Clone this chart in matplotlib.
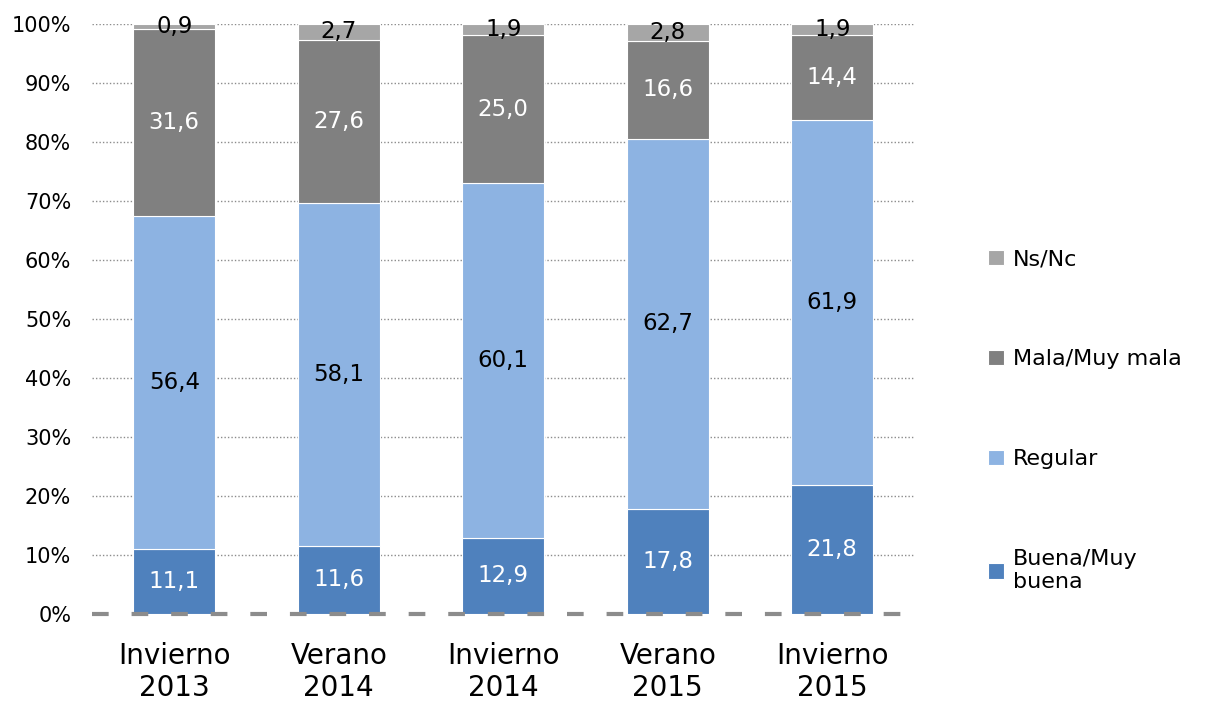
import matplotlib.pyplot as plt
import numpy as np

plt.rcParams['font.family'] = ['DejaVu Sans']

periods = ['Invierno\n2013', 'Verano\n2014', 'Invierno\n2014', 'Verano\n2015', 'Invierno\n2015']
buena = [11.1, 11.6, 12.9, 17.8, 21.8]
regular = [56.4, 58.1, 60.1, 62.7, 61.9]
mala = [31.6, 27.6, 25.0, 16.6, 14.4]
nsnc = [0.9, 2.7, 1.9, 2.8, 1.9]

series = [
    ('Buena/Muy\nbuena', buena, '#4F81BD', 'white'),
    ('Regular', regular, '#8DB3E2', 'black'),
    ('Mala/Muy mala', mala, '#808080', 'white'),
    ('Ns/Nc', nsnc, '#A6A6A6', 'black'),
]

totals = np.sum([s[1] for s in series], axis=0)
x = np.arange(len(periods))

fig = plt.figure(figsize=(12.15, 7.05), dpi=100)
ax = fig.add_axes([0.0757, 0.129, 0.677, 0.837])

bottom = np.zeros(len(periods))
handles = []
for name, vals, color, tcolor in series:
    pct = np.array(vals) / totals * 100
    bars = ax.bar(x, pct, 0.5, bottom=bottom, color=color, label=name,
                  edgecolor='white', linewidth=0.8, zorder=3)
    handles.append(bars)
    for xi, b, p, v in zip(x, bottom, pct, vals):
        ax.text(xi, b + p / 2, f'{v:.1f}'.replace('.', ','), ha='center', va='center',
                color=tcolor, fontsize=16.5, zorder=4)
    bottom += pct

ax.set_xlim(-0.5, len(periods) - 0.5)
ax.set_ylim(0, 100)
ax.set_yticks(np.arange(0, 101, 10))
ax.set_yticklabels([f'{t}%' for t in range(0, 101, 10)], fontsize=15)
ax.set_xticks(x)
ax.set_xticklabels(periods, fontsize=20, linespacing=1.2)
ax.tick_params(length=0)
ax.tick_params(axis='y', pad=15)
ax.tick_params(axis='x', pad=20)

for t in range(10, 101, 10):
    ax.axhline(t, color='#8c8c8c', linestyle=(0, (1, 1.5)), linewidth=1, zorder=1)
ax.axhline(0, color='#8c8c8c', linestyle=(0, (4, 5.5)), linewidth=3, zorder=5, clip_on=False)

for s in ax.spines.values():
    s.set_visible(False)

fig.legend(handles[::-1], [s[0] for s in series][::-1], loc='center left',
           bbox_to_anchor=(0.797, 0.403), frameon=False, fontsize=16,
           handlelength=0.7, handleheight=0.7, handletextpad=0.4, labelspacing=3.6)

fig.savefig('out.png', dpi=100)
